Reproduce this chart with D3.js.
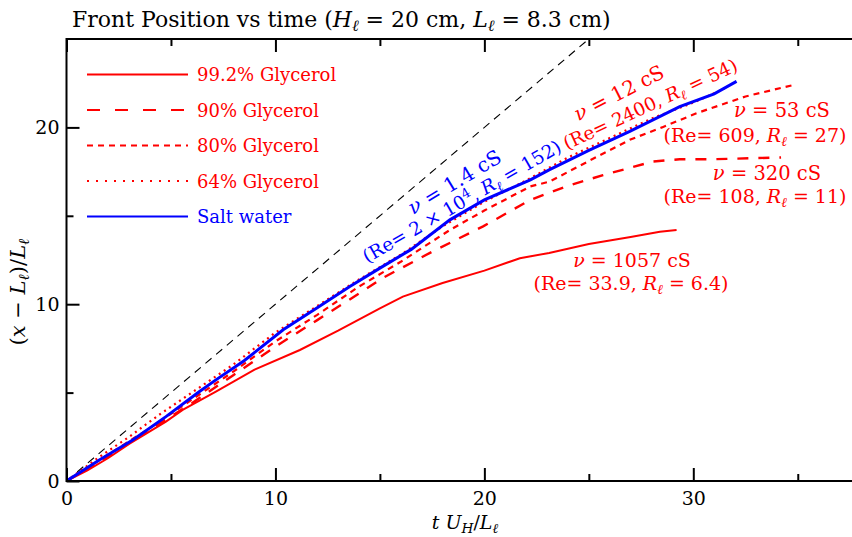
<!DOCTYPE html>
<html>
<head>
<meta charset="utf-8">
<script src="https://cdn.jsdelivr.net/npm/d3@7"></script>
<style>
body { margin: 0; background: #fff; }
</style>
</head>
<body>
<script>
// axis ticks
var xTicks = [0, 10, 20, 30];
var xMinor = [5, 15, 25, 35];
var yTicks = [0, 10, 20];
var yMinor = [5, 15];

// curves: [t U_H / L, (x - L) / L]
var glyc992 = [[0,0],[1,0.6],[2,1.3],[3,2.1],[4.76,3.36],[5.56,4.02],[7.15,5.05],[9,6.3],[11.17,7.41],[13,8.5],[15,9.77],[16.1,10.43],[18,11.2],[20,11.9],[21.7,12.6],[23.1,12.9],[25,13.4],[27,13.8],[28.4,14.1],[29.2,14.2]];
var glyc90 = [[0,0],[2,1.4],[4,2.9],[6,4.4],[8,6.0],[10,7.6],[12,9.1],[14,10.6],[15.16,11.5],[17.55,13.0],[19.94,14.4],[22.2,15.9],[24,16.7],[25.68,17.3],[28.07,18.07],[29.35,18.2],[31,18.2],[34.2,18.3]];
var glyc80 = [[0,0],[2,1.5],[4,3.0],[6,4.6],[8,6.2],[10,7.9],[12,9.4],[14,11.0],[16,12.4],[18.35,14.2],[20,15.3],[22.2,16.66],[23.13,16.94],[25,18.1],[26.96,19.3],[28.5,20.0],[30.15,20.8],[32.5,21.75],[34.8,22.4]];
var glyc64 = [[0,0],[1.5,1.3],[3,2.5],[4.5,3.8],[6,5.0],[8,6.6],[10,8.4],[12,9.9],[14,11.4],[16,12.8],[18,14.4],[20,15.8],[22,17.0],[24,18.3],[26,19.4],[28,20.5],[30,21.4],[31.5,22.2]];
var salt = [[0,0],[1.57,1.19],[3.17,2.32],[4.76,3.64],[6.35,5.05],[7.15,5.72],[8.5,6.8],[10.37,8.55],[12,9.8],[13.56,11.0],[15,12.04],[16.5,13.1],[18.35,14.77],[20,15.9],[22.2,17.03],[23.1,17.6],[25,18.7],[26.96,19.77],[29.35,21.18],[31,21.9],[32.07,22.6]];
var ideal = [[0,0],[25,25]];

var legendNames = ["99.2% Glycerol", "90% Glycerol", "80% Glycerol", "64% Glycerol", "Salt water"];

var FONT = "'DejaVu Serif', 'Liberation Serif', serif";
var W = 852, H = 537;
var svg = d3.select("body").append("svg").attr("width", W).attr("height", H)
  .style("font-family", FONT);

var x = d3.scaleLinear().domain([0, 37.5]).range([66.5, 850]);
var y = d3.scaleLinear().domain([0, 25]).range([481, 39]);

// rich text helper: parts = [[text, kind]] kind: "" | "i" | "sub" | "sup"
function rich(sel, parts) {
  var shift = 0;
  sel.style("font-family", FONT);
  parts.forEach(function(p) {
    var ts = sel.append("tspan").text(p[0]);
    var want = 0;
    if (p[1] == "i") ts.attr("font-style", "italic");
    if (p[1] == "sub") { ts.attr("font-style", "italic").attr("font-size", "0.72em"); want = 4; }
    if (p[1] == "sup") { ts.attr("font-size", "0.72em"); want = -7; }
    if (want != shift) { ts.attr("dy", want - shift); shift = want; }
  });
  return sel;
}

svg.append("defs").append("clipPath").attr("id", "clip")
  .append("rect").attr("x", 66.5).attr("y", 39).attr("width", 790).attr("height", 442);

var line = d3.line().x(function(d){ return x(d[0]); }).y(function(d){ return y(d[1]); });
var plot = svg.append("g").attr("clip-path", "url(#clip)");

plot.append("path").datum(ideal).attr("d", line)
  .attr("fill", "none").attr("stroke", "#000").attr("stroke-width", 1.1).attr("stroke-dasharray", "8,6");

var series = [
  {data: glyc992, color: "red", w: 2, dash: null},
  {data: glyc90, color: "red", w: 2.4, dash: "11,10"},
  {data: glyc80, color: "red", w: 2.2, dash: "6,5"},
  {data: glyc64, color: "red", w: 2.2, dash: "2,4"},
  {data: salt, color: "blue", w: 3, dash: null}
];
series.forEach(function(s) {
  plot.append("path").datum(s.data).attr("d", line)
    .attr("fill", "none").attr("stroke", s.color).attr("stroke-width", s.w)
    .attr("stroke-dasharray", s.dash);
});

// frame and ticks
svg.append("rect").attr("x", 66.5).attr("y", 39).attr("width", 800).attr("height", 442)
  .attr("fill", "none").attr("stroke", "#000").attr("stroke-width", 2);

function ticks(g) {
  g.attr("font-family", null).attr("font-size", null);
  g.select(".domain").remove();
  g.selectAll("line").attr("stroke", "#000").attr("stroke-width", 2);
  g.selectAll("text").style("font-family", FONT).attr("font-size", 19).attr("fill", "#000");
}
svg.append("g").attr("transform", "translate(0,481)")
  .call(d3.axisBottom(x).tickValues(xTicks).tickSize(-13).tickPadding(11).tickFormat(d3.format("d"))).call(ticks);
svg.append("g").attr("transform", "translate(0,481)")
  .call(d3.axisBottom(x).tickValues(xMinor).tickSize(-7).tickFormat("")).call(ticks);
svg.append("g").attr("transform", "translate(0,39)")
  .call(d3.axisTop(x).tickValues(xTicks).tickSize(-13).tickFormat("")).call(ticks);
svg.append("g").attr("transform", "translate(0,39)")
  .call(d3.axisTop(x).tickValues(xMinor).tickSize(-7).tickFormat("")).call(ticks);
svg.append("g").attr("transform", "translate(66.5,0)")
  .call(d3.axisLeft(y).tickValues(yTicks).tickSize(-13).tickPadding(7).tickFormat(d3.format("d"))).call(ticks);
svg.append("g").attr("transform", "translate(66.5,0)")
  .call(d3.axisLeft(y).tickValues(yMinor).tickSize(-7).tickFormat("")).call(ticks);

// title and axis labels
rich(svg.append("text").attr("x", 72).attr("y", 27).attr("font-size", 22),
  [["Front Position vs time (", ""], ["H", "i"], ["ℓ", "sub"], [" = 20 cm, ", ""], ["L", "i"], ["ℓ", "sub"], [" = 8.3 cm)", ""]]);
rich(svg.append("text").attr("x", 465).attr("y", 529).attr("font-size", 19).attr("text-anchor", "middle"),
  [["t", "i"], [" U", "i"], ["H", "sub"], ["/", ""], ["L", "i"], ["ℓ", "sub"]]);
rich(svg.append("text").attr("transform", "translate(25,292) rotate(-90)").attr("font-size", 21)
    .attr("text-anchor", "middle"),
  [["(", ""], ["x", "i"], [" − ", ""], ["L", "i"], ["ℓ", "sub"], [")/", ""], ["L", "i"], ["ℓ", "sub"]]);

// legend
var leg = svg.append("g");
legendNames.forEach(function(name, i) {
  var ly = 74.5 + i * 35.5;
  var s = series[i];
  leg.append("line").attr("x1", 87).attr("x2", 188).attr("y1", ly).attr("y2", ly)
    .attr("stroke", s.color).attr("stroke-width", 2)
    .attr("stroke-dasharray", i == 1 ? "13,15" : i == 2 ? "6,5" : i == 3 ? "2,7" : null);
  leg.append("text").attr("x", 197).attr("y", ly + 6.5).attr("font-size", 18)
    .style("font-family", FONT).attr("fill", s.color).text(name);
});

// annotations
function note(cx, cy, angle, color, size, parts) {
  rich(svg.append("text").attr("transform", "translate(" + cx + "," + cy + ") rotate(" + angle + ")")
    .attr("font-size", size).attr("text-anchor", "middle").attr("fill", color), parts);
}
note(458, 188, -31, "blue", 20, [["ν", "i"], [" = 1.4 cS", ""]]);
note(465, 207, -30, "blue", 18.5, [["(Re= 2 × 10", ""], ["4", "sup"], [", ", ""], ["R", "i"], ["ℓ", "sub"], [" = 152)", ""]]);
note(622, 99, -27, "red", 20, [["ν", "i"], [" = 12 cS", ""]]);
note(653, 110, -25, "red", 18.5, [["(Re= 2400, ", ""], ["R", "i"], ["ℓ", "sub"], [" = 54)", ""]]);
note(782, 117, 0, "red", 19.5, [["ν", "i"], [" = 53 cS", ""]]);
note(755, 142, 0, "red", 19, [["(Re= 609, ", ""], ["R", "i"], ["ℓ", "sub"], [" = 27)", ""]]);
note(767, 180, 0, "red", 19.5, [["ν", "i"], [" = 320 cS", ""]]);
note(755, 203, 0, "red", 19, [["(Re= 108, ", ""], ["R", "i"], ["ℓ", "sub"], [" = 11)", ""]]);
note(632, 267, 0, "red", 19, [["ν", "i"], [" = 1057 cS", ""]]);
note(631, 290, 0, "red", 19, [["(Re= 33.9, ", ""], ["R", "i"], ["ℓ", "sub"], [" = 6.4)", ""]]);
</script>
</body>
</html>
